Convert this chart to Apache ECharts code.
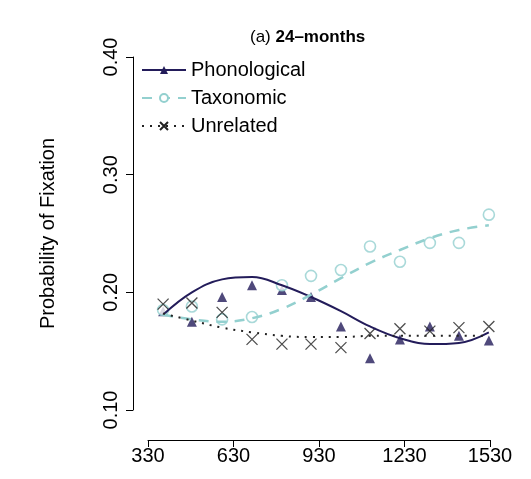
<!DOCTYPE html>
<html>
<head>
<meta charset="utf-8">
<script src="https://cdn.jsdelivr.net/npm/echarts@6/dist/echarts.min.js"></script>
<style>html,body{margin:0;background:#fff}#c{width:531px;height:479px}</style>
</head>
<body>
<div id="c"></div>
<script>
// time bins (ms)
var times = [383, 484, 590, 695, 800, 902, 1007, 1109, 1214, 1319, 1421, 1526];
var phonPts = [0.184, 0.175, 0.196, 0.206, 0.202, 0.196, 0.171, 0.144, 0.160, 0.171, 0.163, 0.159];
var taxPts  = [0.185, 0.188, 0.177, 0.179, 0.206, 0.214, 0.219, 0.239, 0.226, 0.242, 0.242, 0.266];
var unrPts  = [0.190, 0.191, 0.183, 0.160, 0.156, 0.156, 0.153, 0.165, 0.169, 0.167, 0.170, 0.171];
// fitted curves
var phonFit = [0.181, 0.200, 0.211, 0.213, 0.206, 0.196, 0.184, 0.171, 0.161, 0.156, 0.157, 0.166];
var taxFit  = [0.181, 0.177, 0.175, 0.178, 0.186, 0.198, 0.212, 0.225, 0.236, 0.246, 0.253, 0.257];
var unrFit  = [0.182, 0.176, 0.170, 0.166, 0.163, 0.162, 0.162, 0.163, 0.163, 0.163, 0.163, 0.163];
var X0 = 330;

var navy = '#231c5a', teal = '#93d0cf', blk = '#222';
function pairs(ys){ return times.map(function(t, i){ return [t - X0, ys[i]]; }); }

var chart = echarts.init(document.getElementById('c'));
var font = 'Liberation Sans, Arial, sans-serif';
chart.setOption({
  animation: false,
  textStyle: {fontFamily: font},
  title: {
    text: '{n|(a) }{b|24–months}', left: 245, top: 24,
    textStyle: {rich: {n: {fontSize: 17, fontWeight: 'normal', fontFamily: font, color: '#000'},
                       b: {fontSize: 17, fontWeight: 'bold', fontFamily: font, color: '#000'}}}
  },
  legend: {
    orient: 'vertical', left: 136, top: 55, itemWidth: 44, itemHeight: 10, itemGap: 8,
    textStyle: {fontSize: 20, fontFamily: font, color: '#000'},
    data: ['Phonological', 'Taxonomic', 'Unrelated']
  },
  grid: {left: 148, right: 41, top: 57, bottom: 69},
  xAxis: {
    type: 'value', min: 0, max: 1200, interval: 300, offset: 30,
    axisLine: {lineStyle: {color: '#000'}}, axisTick: {length: 7, lineStyle: {color: '#000'}},
    splitLine: {show: false},
    axisLabel: {fontSize: 20, color: '#000', margin: 6, formatter: function(v){ return v + X0; }}
  },
  yAxis: {
    type: 'value', position: 'left', min: 0.1, max: 0.4, interval: 0.1, offset: 15,
    name: 'Probability of Fixation', nameLocation: 'middle', nameGap: 75,
    nameTextStyle: {fontSize: 20, color: '#000'},
    axisLine: {show: true, onZero: false, lineStyle: {color: '#000'}}, axisTick: {show: true, length: 7, lineStyle: {color: '#000'}},
    splitLine: {show: false},
    axisLabel: {fontSize: 20, color: '#000', rotate: 90, margin: 12, formatter: function(v){ return v.toFixed(2); }}
  },
  series: [
    {name: 'Phonological', type: 'line', smooth: 0.4, data: pairs(phonFit), showSymbol: false,
     symbol: 'triangle', symbolSize: 10, itemStyle: {color: navy}, lineStyle: {color: navy, width: 2}},
    {name: 'Taxonomic', type: 'line', smooth: 0.4, data: pairs(taxFit), showSymbol: false,
     symbol: 'emptyCircle', symbolSize: 10, itemStyle: {color: teal, borderColor: teal}, lineStyle: {color: teal, width: 2.5, type: [10, 8]}},
    {name: 'Unrelated', type: 'line', smooth: 0.4, data: pairs(unrFit), showSymbol: false,
     symbol: 'path://M0,0L10,10M10,0L0,10', symbolSize: 10, itemStyle: {color: 'none', borderColor: blk, borderWidth: 1.3},
     lineStyle: {color: blk, width: 2, type: [2, 6]}},
    {type: 'scatter', data: pairs(phonPts), symbol: 'triangle', symbolSize: 10, itemStyle: {color: navy}},
    {type: 'scatter', data: pairs(taxPts), symbol: 'circle', symbolSize: 11,
     itemStyle: {color: '#fff', borderColor: teal, borderWidth: 1.6}},
    {type: 'scatter', data: pairs(unrPts), symbol: 'path://M0,0L10,10M10,0L0,10', symbolSize: 11,
     itemStyle: {color: 'none', borderColor: blk, borderWidth: 1.3}}
  ]
});
</script>
</body>
</html>
